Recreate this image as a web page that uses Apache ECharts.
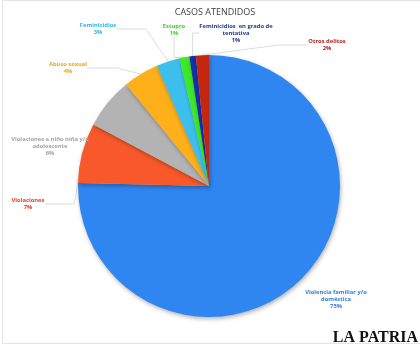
<!DOCTYPE html>
<html><head><meta charset="utf-8">
<script src="https://cdn.jsdelivr.net/npm/echarts@6/dist/echarts.min.js"></script>
<style>html,body{margin:0;padding:0;background:#fff}#c{width:420px;height:346px}</style>
</head><body><div id="c"></div>
<script>
var categories = [
  'Violencia familiar y/o\ndoméstica',
  'Violaciones',
  'Violaciones a niño niña y/o\nadolescente',
  'Abuso sexual',
  'Feminicidios',
  'Estupro',
  'Feminicidios  en grado de\ntentativa',
  'Otros delitos'
];
var values = [75.3, 7.4, 6.3, 4.4, 2.9, 1.2, 0.8, 1.6];
var sliceColors = ['#2F86F0', '#F9592A', '#B3B3B3', '#FDB01A', '#3DBFEE', '#3BEA26', '#1530A8', '#C4260F'];
var labelColors = ['#2F7FD8', '#E5391F', '#A3A3A3', '#EFA612', '#2EB3E2', '#39D421', '#253A8F', '#B2231A'];
var labelPos = [[336,299],[28,204],[50,146],[68,68],[98,29],[174,30],[236,33],[327,45]];

var chart = echarts.init(document.getElementById('c'), null, {renderer:'canvas'});
chart.setOption({
  backgroundColor: '#fff',
  animation: false,
  title: {
    text: 'CASOS ATENDIDOS', left: 210, top: 3, textAlign: 'center',
    textStyle: {fontFamily: 'Open Sans', fontSize: 9, fontWeight: 'normal', color: '#404040'}
  },
  graphic: [
    {type: 'rect', shape: {x: 2.5, y: 0.5, width: 430, height: 343}, style: {fill: 'none', stroke: '#e4e4e4', lineWidth: 1}, silent: true},
    {type: 'text', right: 2, bottom: 0, style: {text: 'LA PATRIA', fontFamily: 'Liberation Serif', fontWeight: 'bold', fontSize: 16, fill: '#111'}}
  ],
  series: [{
    type: 'pie',
    center: [209, 186],
    radius: [0, 131],
    startAngle: 90,
    clockwise: true,
    data: categories.map(function (n, i) {
      return {
        name: n, value: values[i],
        itemStyle: {color: sliceColors[i]},
        label: {color: labelColors[i]},
        labelLine: {show: i !== 0}
      };
    }),
    itemStyle: {shadowBlur: 4, shadowColor: 'rgba(0,0,0,0.3)', shadowOffsetY: 2, shadowOffsetX: 1},
    label: {
      show: true,
      overflow: 'none',
      formatter: function (p) { return p.name + '\n' + Math.round(p.value) + '%'; },
      fontFamily: 'Open Sans', fontSize: 5.8, fontWeight: 'bold', lineHeight: 7, align: 'center'
    },
    labelLine: {show: true, lineStyle: {color: '#c4c4c4', width: 0.6}},
    labelLayout: function (p) {
      var q = labelPos[p.dataIndex];
      return {x: q[0], y: q[1], align: 'center', verticalAlign: 'middle'};
    }
  }]
});
</script>
</body></html>
